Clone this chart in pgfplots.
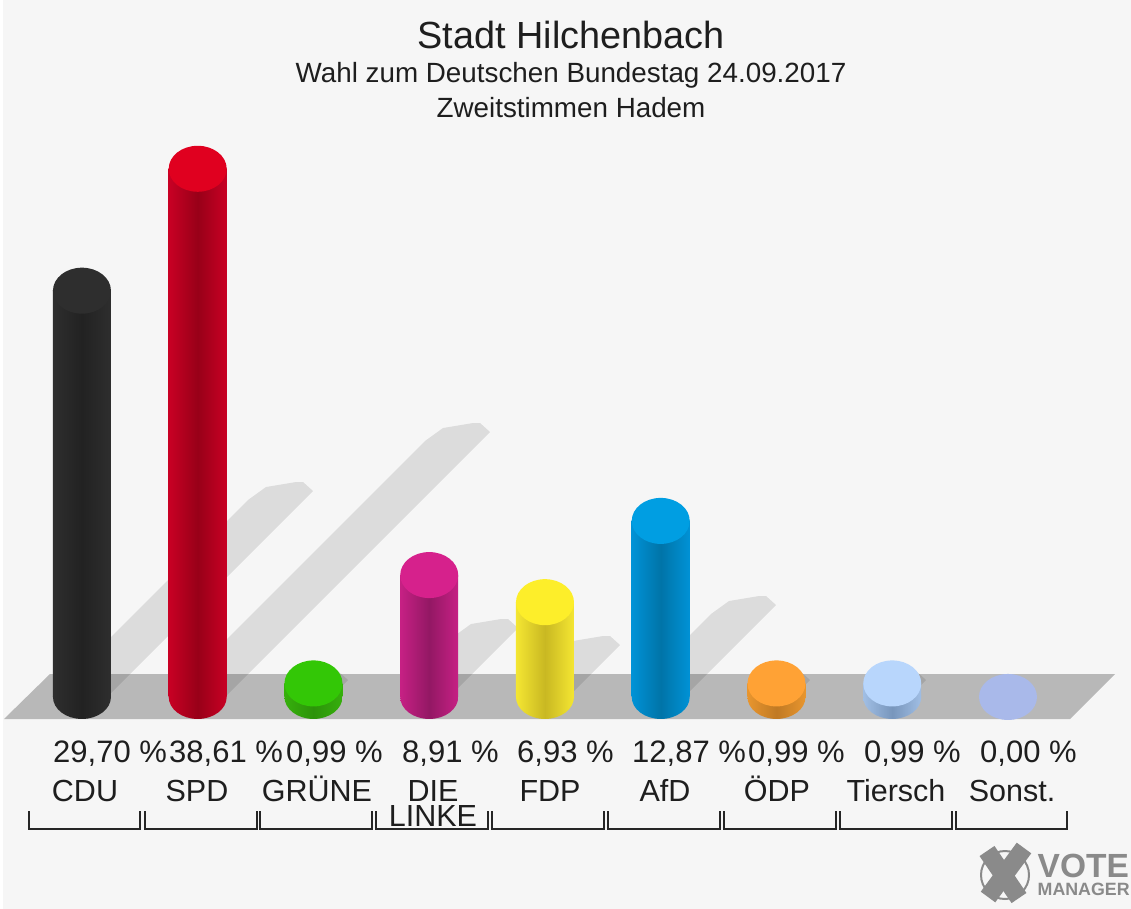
\documentclass[border=0pt]{standalone}
\usepackage{pgfplots}
\pgfplotsset{compat=1.18}
\usepackage{fontspec}
\setmainfont{Liberation Sans}
\definecolor{bg}{HTML}{F6F6F6}
\definecolor{floorc}{HTML}{B8B8B8}
\definecolor{logoc}{HTML}{8A8A8A}
\definecolor{txt}{HTML}{1E1E1E}
\newcommand\defmarks[4]{%
 \pgfdeclareplotmark{base#1}{\path[draw=none,left color=#2,right color=#2,middle color=#3] (canvas cs:x=0pt,y=0pt) ellipse (29pt and 22pt);}%
 \pgfdeclareplotmark{top#1}{\path[draw=none,fill=#4] (canvas cs:x=0pt,y=0pt) ellipse (29pt and 23pt);}%
}
\definecolor{c1e}{HTML}{2E2E2E}\definecolor{c1m}{HTML}{222222}\definecolor{c1t}{HTML}{2E2E2E}
\definecolor{c2e}{HTML}{C80024}\definecolor{c2m}{HTML}{980018}\definecolor{c2t}{HTML}{E0001F}
\definecolor{c3e}{HTML}{36B00C}\definecolor{c3m}{HTML}{2C920A}\definecolor{c3t}{HTML}{33C706}
\definecolor{c4e}{HTML}{C62084}\definecolor{c4m}{HTML}{931864}\definecolor{c4t}{HTML}{D6218C}
\definecolor{c5e}{HTML}{F4E632}\definecolor{c5m}{HTML}{C9B822}\definecolor{c5t}{HTML}{FDEE2A}
\definecolor{c6e}{HTML}{0092D6}\definecolor{c6m}{HTML}{0074A8}\definecolor{c6t}{HTML}{009EE2}
\definecolor{c7e}{HTML}{E8952E}\definecolor{c7m}{HTML}{C07A24}\definecolor{c7t}{HTML}{FFA235}
\definecolor{c8e}{HTML}{A0BEE4}\definecolor{c8m}{HTML}{7896BC}\definecolor{c8t}{HTML}{B8D6FC}
\definecolor{c9t}{HTML}{A9B9EA}
\defmarks{A}{c1e}{c1m}{c1t}
\defmarks{B}{c2e}{c2m}{c2t}
\defmarks{C}{c3e}{c3m}{c3t}
\defmarks{D}{c4e}{c4m}{c4t}
\defmarks{E}{c5e}{c5m}{c5t}
\defmarks{F}{c6e}{c6m}{c6t}
\defmarks{G}{c7e}{c7m}{c7t}
\defmarks{H}{c8e}{c8m}{c8t}
\defmarks{I}{c9t}{c9t}{c9t}
% #1 mark id, #2 x, #3 value, #4 edge colour, #5 mid colour, #6 left x, #7 right x
\newcommand\partybar[7]{%
 \addplot[only marks, mark=base#1, forget plot] coordinates {(#2,0)};
 \addplot[draw=none, left color=#4, right color=#4, middle color=#5, forget plot] coordinates {(#6,0) (#6,#3) (#7,#3) (#7,0)} -- cycle;
 \addplot[only marks, mark=top#1, forget plot] coordinates {(#2,#3)};
}
\newcommand\shadow[1]{%
 \addplot[draw=none, fill=black, fill opacity=0.10, no marks, forget plot] coordinates {#1} -- cycle;
}
\newcommand\vlab[2]{\node[anchor=base west, inner sep=0pt, text=txt, font=\fontsize{31}{31}\selectfont] at (axis cs:#1,762) {#2 \%};}
\newcommand\nlab[3]{\node[anchor=base, inner sep=0pt, text=txt, font=\fontsize{30.5}{30.5}\selectfont] at (axis cs:#1,#2) {#3};}
\newcommand\brk[2]{\draw[line width=2pt, black!85] (axis cs:#1,811) -- (axis cs:#1,829) -- (axis cs:#2,829) -- (axis cs:#2,811);}
\begin{document}
\begin{tikzpicture}
\useasboundingbox (0,0) rectangle (1131pt,909pt);
\begin{axis}[at={(0,0)}, anchor=south west, scale only axis, width=1131pt, height=909pt, hide axis,
  xmin=0, xmax=1131, ymin=0, ymax=909, y dir=reverse, clip=false]
\fill[white] (axis cs:0,0) rectangle (axis cs:1131,909);
\fill[bg] (axis cs:3,0) rectangle (axis cs:1131,909);
\fill[floorc] (axis cs:4,719) -- (axis cs:50,674) -- (axis cs:1115,674) -- (axis cs:1070,719) -- cycle;
\shadow{(60,697)(60,688)(248,500)(266,487)(296,482)(303,482)(313,491)(107,697)}
\shadow{(176,697)(176,690)(425,441)(443,428)(473,423)(480,423)(490,432)(225,697)}
\shadow{(300,697)(300,675)(331,671)(338,671)(348,680)(331,697)}
\shadow{(408,697)(408,682)(453,637)(471,624)(501,619)(508,619)(518,628)(449,697)}
\shadow{(524,697)(524,685)(555,654)(573,641)(603,636)(610,636)(620,645)(568,697)}
\shadow{(640,697)(640,685)(711,614)(729,601)(759,596)(766,596)(776,605)(684,697)}
\shadow{(762,697)(762,675)(793,671)(800,671)(810,680)(793,697)}
\shadow{(878,697)(878,675)(909,671)(916,671)(926,680)(909,697)}
\node[anchor=base, inner sep=0pt, text=txt, font=\fontsize{37.8}{37.8}\selectfont] at (axis cs:571,48.5) {Stadt Hilchenbach};
\node[anchor=base, inner sep=0pt, text=txt, font=\fontsize{27.8}{27.8}\selectfont] at (axis cs:571,82.5) {Wahl zum Deutschen Bundestag 24.09.2017};
\node[anchor=base, inner sep=0pt, text=txt, font=\fontsize{27.8}{27.8}\selectfont] at (axis cs:571,117.5) {Zweitstimmen Hadem};
\vlab{53}{29,70}
\vlab{169}{38,61}
\vlab{286}{0,99}
\vlab{402}{8,91}
\vlab{517}{6,93}
\vlab{632}{12,87}
\vlab{748}{0,99}
\vlab{864}{0,99}
\vlab{980}{0,00}
\nlab{85}{801}{CDU}
\nlab{197}{801}{SPD}
\nlab{317}{801}{GRÜNE}
\nlab{433}{801}{DIE}
\nlab{433}{826}{LINKE}
\nlab{550}{801}{FDP}
\nlab{665}{801}{AfD}
\nlab{777}{801}{ÖDP}
\nlab{896}{801}{Tiersch}
\nlab{1012}{801}{Sonst.}
\brk{29}{140}\brk{145}{257}\brk{260}{372}\brk{376}{488}\brk{492}{604}\brk{608}{720}\brk{724}{836}\brk{840}{952}\brk{956}{1067}
% logo
\draw[logoc, line width=2pt] (axis cs:1005,875) circle (24pt);
\draw[logoc, line width=18pt] (axis cs:987,851) -- (axis cs:1019,898);
\draw[logoc, line width=18pt] (axis cs:1024,848) -- (axis cs:988,897);
\node[anchor=base west, inner sep=0pt, text=logoc, font=\fontsize{33.5}{33.5}\selectfont\bfseries] at (axis cs:1037.5,877) {VOTE};
\node[anchor=base west, inner sep=0pt, text=logoc, font=\fontsize{17.8}{17.8}\selectfont\bfseries] at (axis cs:1037.5,895) {MANAGER};
\end{axis}
\begin{axis}[at={(0,0)}, anchor=south west, scale only axis, width=1131pt, height=909pt, hide axis,
  xmin=-0.708, xmax=9.063, ymin=-15.5, ymax=50.95, clip=false]
\partybar{A}{0}{29.70}{c1e}{c1m}{-0.2505}{0.2505}
\partybar{B}{1}{38.61}{c2e}{c2m}{0.7495}{1.2505}
\partybar{C}{2}{0.99}{c3e}{c3m}{1.7495}{2.2505}
\partybar{D}{3}{8.91}{c4e}{c4m}{2.7495}{3.2505}
\partybar{E}{4}{6.93}{c5e}{c5m}{3.7495}{4.2505}
\partybar{F}{5}{12.87}{c6e}{c6m}{4.7495}{5.2505}
\partybar{G}{6}{0.99}{c7e}{c7m}{5.7495}{6.2505}
\partybar{H}{7}{0.99}{c8e}{c8m}{6.7495}{7.2505}
\addplot[only marks, mark=topI, forget plot] coordinates {(8,0.00)};
\end{axis}
\end{tikzpicture}
\end{document}
